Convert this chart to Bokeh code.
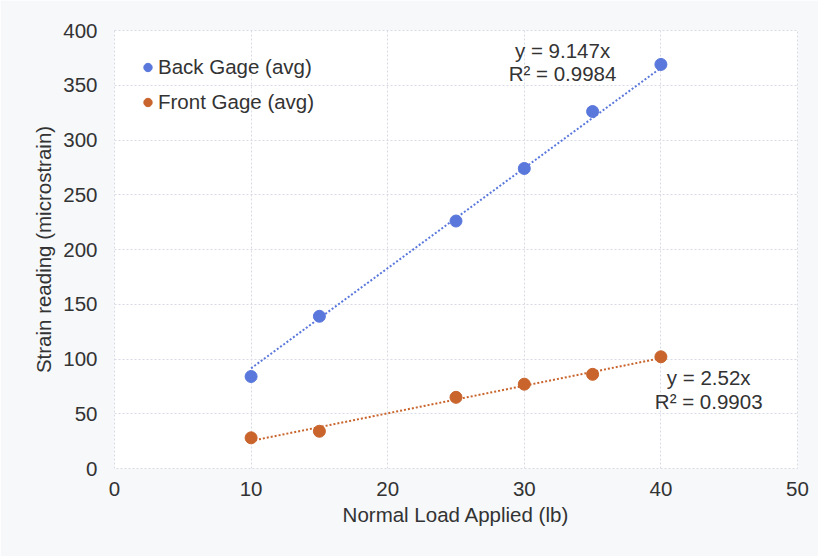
from bokeh.plotting import figure
from bokeh.models import Label, Legend, LegendItem, FixedTicker
from bokeh.embed import file_html
from bokeh.resources import INLINE

load = [10, 15, 25, 30, 35, 40]
back = [84, 139, 226, 274, 326, 369]
front = [28, 34, 65, 77, 86, 102]
back_slope = 9.147
front_slope = 2.52
back_eq = ["y = 9.147x", "R\u00b2 = 0.9984"]
front_eq = ["y = 2.52x", "R\u00b2 = 0.9903"]
x_ticks = [0, 10, 20, 30, 40, 50]
y_ticks = [0, 50, 100, 150, 200, 250, 300, 350, 400]

BLUE = "#5a78dc"
ORANGE = "#c8642c"
TXT = "#333333"
FONT = "Liberation Sans"
FS = "20.5px"

p = figure(width=818, height=556, x_range=(0, 50), y_range=(0, 400),
           output_backend="svg", toolbar_location=None,
           frame_width=683, frame_height=438,
           min_border_left=114, min_border_right=21, min_border_top=30, min_border_bottom=88)
p.background_fill_color = "white"
p.border_fill_color = "#f6f8fa"
p.outline_line_color = "#d8dbe6"
p.outline_line_dash = "2 2"

for ax in (p.xaxis[0], p.yaxis[0]):
    ax.axis_line_color = None
    ax.major_tick_line_color = None
    ax.minor_tick_line_color = None
    ax.major_tick_in = 0
    ax.major_tick_out = 0
    ax.major_label_text_font = FONT
    ax.major_label_text_font_size = FS
    ax.major_label_text_color = TXT
    ax.axis_label_text_font = FONT
    ax.axis_label_text_font_size = FS
    ax.axis_label_text_font_style = "normal"
    ax.axis_label_text_color = TXT

p.xaxis.ticker = FixedTicker(ticks=x_ticks)
p.yaxis.ticker = FixedTicker(ticks=y_ticks)
p.xaxis.axis_label = "Normal Load Applied (lb)"
p.yaxis.axis_label = "Strain reading (microstrain)"
p.xaxis.major_label_standoff = 13
p.yaxis.major_label_standoff = 17
p.xaxis.axis_label_standoff = 4
p.yaxis.axis_label_standoff = 5

p.xgrid.ticker = FixedTicker(ticks=x_ticks)
p.ygrid.ticker = FixedTicker(ticks=y_ticks)
for g in (p.xgrid[0], p.ygrid[0]):
    g.grid_line_color = "#d8dbe6"
    g.grid_line_dash = "2 2"
    g.grid_line_width = 1

# trendlines (through origin)
tx = [min(load), max(load)]
p.line(tx, [back_slope * v for v in tx], line_color=BLUE, line_width=2, line_dash="2 2")
p.line(tx, [front_slope * v for v in tx], line_color=ORANGE, line_width=2, line_dash="2 2")

rb = p.scatter(load, back, size=12, fill_color=BLUE, line_color=BLUE)
rf = p.scatter(load, front, size=12, fill_color=ORANGE, line_color=ORANGE)

legend = Legend(items=[LegendItem(label="Back Gage (avg)", renderers=[rb]),
                       LegendItem(label="Front Gage (avg)", renderers=[rf])],
                location="top_left", margin=23, padding=5, spacing=7,
                glyph_width=21, glyph_height=28, label_standoff=0,
                label_text_font=FONT, label_text_font_size=FS,
                label_text_color=TXT, background_fill_alpha=0, border_line_color=None)
p.add_layout(legend)

for i, t in enumerate(back_eq):
    p.add_layout(Label(x=32.8, y=381.5 - 21 * i, text=t, text_align="center", text_baseline="middle",
                       text_font=FONT, text_font_size=FS, text_color=TXT))
for i, t in enumerate(front_eq):
    p.add_layout(Label(x=43.5, y=83 - 21.5 * i, text=t, text_align="center", text_baseline="middle",
                       text_font=FONT, text_font_size=FS, text_color=TXT))

open("out.html", "w").write(file_html(p, INLINE))
